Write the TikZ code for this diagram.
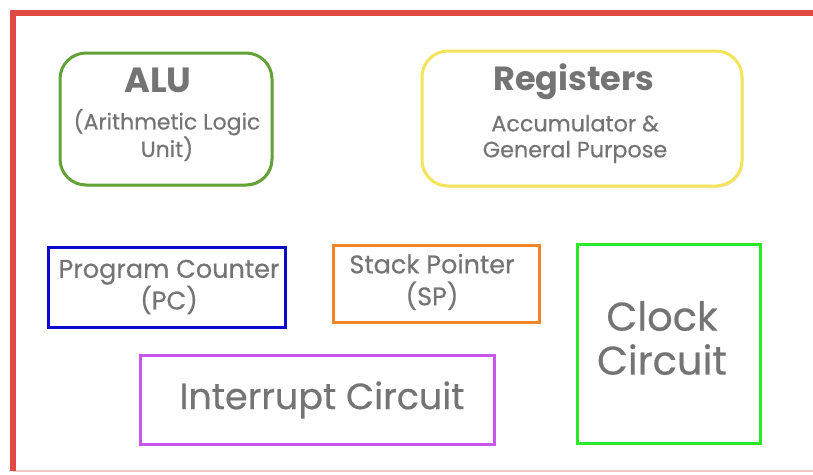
\documentclass[tikz,border=0pt]{standalone}
\usepackage{fontspec}
\setmainfont{Poppins}
\newfontfamily\capfont{Poppins}[FakeBold=0.5]
\usetikzlibrary{shadows}

\definecolor{framered}{HTML}{E04A42}
\definecolor{framepink}{HTML}{F2C6C2}
\definecolor{alugreen}{HTML}{62A236}
\definecolor{regyellow}{HTML}{F4E45A}
\definecolor{pcblue}{HTML}{0A0ACC}
\definecolor{sporange}{HTML}{F0852A}
\definecolor{clkgreen}{HTML}{28E828}
\definecolor{intpurple}{HTML}{C857EC}
\definecolor{labelgray}{HTML}{747474}

\tikzset{
  unitbox/.style={draw, line width=3pt, fill=white, inner sep=0pt,
    drop shadow={opacity=0.18, shadow xshift=1.5pt, shadow yshift=-1.5pt}},
  roundbox/.style={unitbox, rounded corners=26pt},
  caption/.style={text=labelgray, align=center, inner sep=0pt},
}

\newcommand{\fs}[2]{\fontsize{#1}{#2}\selectfont}

\begin{document}
\begin{tikzpicture}[x=1pt,y=-1pt]
\useasboundingbox (0,0) rectangle (813,474);
\fill[white] (0,0) rectangle (813,474);

% outer frame, open on the right
\coordinate (fbl) at (13,471);
\coordinate (ftl) at (13,13);
\coordinate (ftr) at (813,13);
\coordinate (fbr) at (813,471);
\draw[framepink, line width=1.5pt] (fbl) -- (fbr);
\draw[framered, line width=5.5pt] (fbl) -- (ftl) -- (ftr);

% ALU
\node[roundbox, draw=alugreen, minimum width=212pt, minimum height=132pt] (alu) at (166,119) {};
\node[caption, font=\bfseries\fs{35}{38}] (alut) at (158,80) {ALU};
\node[caption, font=\capfont\fs{22}{26}] (alus) at (167,135) {(Arithmetic Logic\\Unit)};

% Registers
\node[roundbox, draw=regyellow, minimum width=320pt, minimum height=135pt] (reg) at (582,118.5) {};
\node[caption, font=\bfseries\fs{33.5}{38}] (regt) at (574,82) {Registers};
\node[caption, font=\capfont\fs{22.3}{26}] (regs) at (575,139) {Accumulator \&\\General Purpose};

% Program Counter
\node[unitbox, draw=pcblue, minimum width=237pt, minimum height=80pt] (pc) at (166.5,287) {};
\node[caption, font=\capfont\fs{25.5}{30}] (pct) at (169,287) {Program Counter\\(PC)};

% Stack Pointer
\node[unitbox, draw=sporange, minimum width=206pt, minimum height=77pt] (sp) at (436,284) {};
\node[caption, font=\capfont\fs{25.5}{32}] (spt) at (432,282) {Stack Pointer\\(SP)};

% Clock Circuit
\node[unitbox, draw=clkgreen, minimum width=183pt, minimum height=199pt] (clk) at (668.5,343.5) {};
\node[caption, font=\capfont\fs{40}{44}] (clkt) at (662,338) {Clock\\Circuit};

% Interrupt Circuit
\node[unitbox, draw=intpurple, minimum width=354pt, minimum height=89pt] (irq) at (317,399.5) {};
\node[caption, font=\capfont\fs{36.5}{40}] (irqt) at (322,400) {Interrupt Circuit};
\end{tikzpicture}
\end{document}
